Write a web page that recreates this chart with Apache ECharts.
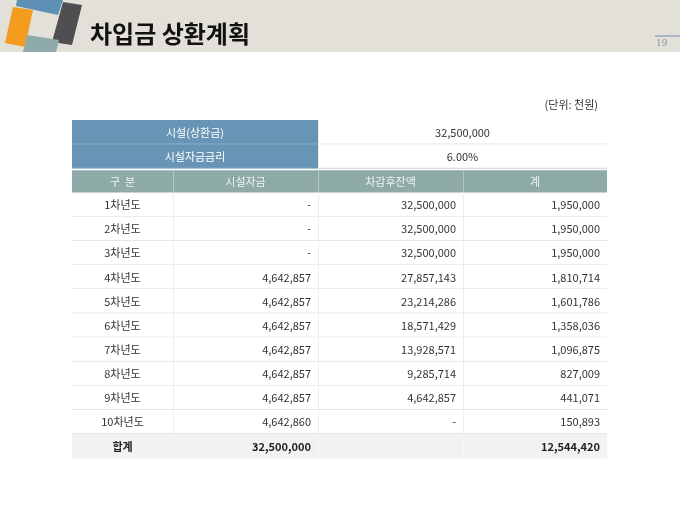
<!DOCTYPE html>
<html>
<head>
<meta charset="utf-8">
<style>
  * { margin: 0; padding: 0; }
  #container { position: relative; width: 680px; height: 510px; overflow: hidden; background: #fff; }
</style>
</head>
<body>
<div id="container"></div>
<script src="https://cdn.jsdelivr.net/npm/echarts@6.0.0/dist/echarts.min.js"></script>
<script>
    var years = ['1차년도', '2차년도', '3차년도', '4차년도', '5차년도', '6차년도', '7차년도', '8차년도', '9차년도', '10차년도'];
    var facilityFund = [null, null, null, 4642857, 4642857, 4642857, 4642857, 4642857, 4642857, 4642860];
    var balance = [32500000, 32500000, 32500000, 27857143, 23214286, 18571429, 13928571, 9285714, 4642857, null];
    var totals = [1950000, 1950000, 1950000, 1810714, 1601786, 1358036, 1096875, 827009, 441071, 150893];
    var headers = ['구  분', '시설자금', '차감후잔액', '계'];
    var topLabels = ['시설(상환금)', '시설자금금리'];
    var topValues = ['32,500,000', '6.00%'];
    var sumLabel = '합계';
    var sumFund = 32500000;
    var sumTotal = 12544420;

    // column edges in px inside the grid
    var colEdges = [0, 101, 246, 391, 535];
    var FONT = '"Noto Sans CJK KR", "Noto Sans", sans-serif';

    function fmt(v) {
        return v == null ? '-' : v.toLocaleString('en-US');
    }

    var cells = [];
    var rowNames = [];
    topLabels.forEach(function (t, i) {
        rowNames.push('top' + i);
        cells.push({ c0: 0, c1: 2, row: i, text: t, kind: 'blue', align: 'center' });
        cells.push({ c0: 2, c1: 4, row: i, text: topValues[i], kind: 'val', align: 'center' });
    });
    rowNames.push('head');
    headers.forEach(function (h, j) {
        cells.push({ c0: j, c1: j + 1, row: 2, text: h, kind: 'head', align: 'center' });
    });
    years.forEach(function (y, i) {
        var r = 3 + i;
        rowNames.push(y);
        cells.push({ c0: 0, c1: 1, row: r, text: y, kind: 'body', align: 'center' });
        cells.push({ c0: 1, c1: 2, row: r, text: fmt(facilityFund[i]), kind: 'body', align: 'right' });
        cells.push({ c0: 2, c1: 3, row: r, text: fmt(balance[i]), kind: 'body', align: 'right' });
        cells.push({ c0: 3, c1: 4, row: r, text: fmt(totals[i]), kind: 'body', align: 'right' });
    });
    var sr = rowNames.length;
    rowNames.push('sum');
    cells.push({ c0: 0, c1: 1, row: sr, text: sumLabel, kind: 'sum', align: 'center' });
    cells.push({ c0: 1, c1: 2, row: sr, text: fmt(sumFund), kind: 'sum', align: 'right' });
    cells.push({ c0: 2, c1: 3, row: sr, text: '', kind: 'sum', align: 'right' });
    cells.push({ c0: 3, c1: 4, row: sr, text: fmt(sumTotal), kind: 'sum', align: 'right' });

    var styles = {
        blue: { fill: '#6895b5', color: '#ffffff', line: '#9dbbd1', weight: 'normal' },
        val: { fill: '#ffffff', color: '#333333', line: '#d4d4d4', weight: 'normal' },
        head: { fill: '#8eaaa6', color: '#eef3f2', line: '#8eaaa6', weight: 'normal' },
        body: { fill: '#ffffff', color: '#333333', line: '#d6d6d6', weight: 'normal' },
        sum: { fill: '#f2f2f2', color: '#222222', line: '#f2f2f2', weight: 'bold' }
    };

    function renderItem(params, api) {
        var c = cells[params.dataIndex];
        var st = styles[c.kind];
        var p0 = api.coord([api.value(0), api.value(2)]);
        var p1 = api.coord([api.value(1), api.value(2)]);
        var h = api.size([0, 1])[1];
        var x = p0[0], w = p1[0] - p0[0], y = p0[1] - h / 2;
        var top = c.kind === 'head' ? y + 2 : y;
        var children = [{
            type: 'rect',
            shape: { x: x, y: top, width: w, height: y + h - top },
            style: { fill: st.fill }
        }, {
            type: 'line',
            shape: { x1: x, y1: y + h, x2: x + w, y2: y + h },
            style: { stroke: st.line, lineWidth: 1 }
        }];
        if (c.c0 > 0) {
            children.push({
                type: 'line',
                shape: { x1: x + 0.5, y1: top, x2: x + 0.5, y2: y + h },
                style: { stroke: c.kind === 'head' ? '#b4c7c4' : (c.kind === 'sum' ? '#f8f8f8' : '#eeeeee'), lineWidth: 1 }
            });
        }
        children.push({
            type: 'text',
            style: {
                text: c.text,
                x: c.align === 'right' ? x + w - 7 : x + w / 2,
                y: y + h / 2 + (c.kind === 'head' ? 1 : 0.5),
                align: c.align,
                verticalAlign: 'middle',
                fill: st.color,
                font: st.weight + ' 11px ' + FONT
            }
        });
        return { type: 'group', children: children };
    }

    var dom = document.getElementById('container');
    var myChart = echarts.init(dom);
    var option = {
        animation: false,
        grid: { left: 72, right: 73, top: 120, height: 338 },
        xAxis: { type: 'value', min: 0, max: colEdges[4], show: false },
        yAxis: { type: 'category', data: rowNames, inverse: true, show: false },
        graphic: [
            { type: 'rect', shape: { x: 0, y: 0, width: 680, height: 52 }, style: { fill: '#e3dfd9' }, z: 0 },
            { type: 'polygon', shape: { points: [[17, 0], [63, 0], [58, 15], [16, 6]] }, style: { fill: '#5e90b6' } },
            { type: 'polygon', shape: { points: [[13, 7], [33, 10], [25, 47], [5, 43]] }, style: { fill: '#f39c1f' } },
            { type: 'polygon', shape: { points: [[63, 2], [82, 5], [72, 45], [52, 42]] }, style: { fill: '#4f4f51' } },
            { type: 'polygon', shape: { points: [[27, 35], [59, 40], [56, 52], [23, 52]] }, style: { fill: '#8eaaa9' } },
            { type: 'text', style: { text: '차입금 상환계획', x: 90, y: 34, verticalAlign: 'middle', font: 'bold 24px ' + FONT, fill: '#111111' } },
            { type: 'line', shape: { x1: 655, y1: 36, x2: 680, y2: 36 }, style: { stroke: '#6f8fa6', lineWidth: 1 } },
            { type: 'text', style: { text: '19', x: 656, y: 44, verticalAlign: 'middle', font: '9px "DejaVu Serif", serif', fill: '#8a9aa8' } },
            { type: 'text', style: { text: '(단위: 천원)', x: 598, y: 105, align: 'right', verticalAlign: 'middle', font: '11px ' + FONT, fill: '#333333' } }
        ],
        series: [{
            type: 'custom',
            renderItem: renderItem,
            encode: { x: [0, 1], y: 2 },
            data: cells.map(function (c) { return [colEdges[c.c0], colEdges[c.c1], c.row]; })
        }]
    };
    myChart.setOption(option);
</script>
</body>
</html>
